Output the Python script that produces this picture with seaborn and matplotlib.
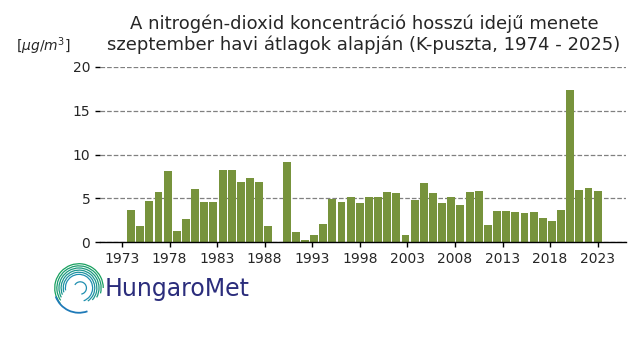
"""NO2 long-term September means, K-puszta."""

import matplotlib

matplotlib.use("Agg")

import matplotlib.pyplot as plt
import numpy as np
import pandas as pd
import seaborn as sns
from matplotlib.patches import Arc

years = list(range(1974, 2026))
no2 = [
    3.66, 1.83, 4.69, 5.73, 8.13, 1.26, 2.63, 6.07, 4.58, 4.58,
    8.24, 8.24, 6.87, 7.33, 6.87, 1.83, np.nan, 9.16, 1.15, 0.23,
    0.80, 2.06, 4.92, 4.58, 5.15, 4.47, 5.15, 5.15, 5.73, 5.61,
    0.80, 4.81, 6.76, 5.61, 4.47, 5.15, 4.24, 5.73, 5.84, 1.95,
    3.55, 3.55, 3.44, 3.32, 3.44, 2.75, 2.40, 3.66, 17.40, 5.95,
    6.18, 5.84,
]
tick_labels = list(range(1973, 2024, 5))

data = pd.DataFrame({"Year": years, "NO2": no2})

sns.set_style("ticks")
plt.rcParams["font.family"] = ["DejaVu Sans"]

fig = plt.figure(figsize=(6.4, 3.6), dpi=100)
ax = fig.add_axes([100 / 640, 1 - 242 / 360, 526 / 640, 175 / 360])

sns.barplot(data=data, x="Year", y="NO2", color="#77933c", saturation=1,
            width=0.86, linewidth=0, ax=ax)

ax.set_xticks(np.linspace(-1, 51, 11))
ax.set_xticklabels(tick_labels, fontsize=10)
ax.set_xlim(-3.4, 54.1)
ax.set_ylim(0, 20)
ax.set_yticks([0, 5, 10, 15, 20])
ax.tick_params(axis="y", labelsize=10, length=3.5, width=1, color="black")
ax.tick_params(axis="x", length=3.5, width=1, color="black")
ax.set_xlabel("")
ax.set_ylabel("")
ax.yaxis.grid(True, linestyle="--", color="gray", linewidth=0.9)
ax.set_axisbelow(True)
for side in ["left", "top", "right"]:
    ax.spines[side].set_visible(False)
ax.spines["bottom"].set_color("black")
ax.spines["bottom"].set_linewidth(1)

fig.text(364 / 640, 1 - 34 / 360,
         "A nitrogén-dioxid koncentráció hosszú idejű menete\n"
         "szeptember havi átlagok alapján (K-puszta, 1974 - 2025)",
         ha="center", va="center", fontsize=13, linespacing=1.15)
fig.text(43 / 640, 1 - 46 / 360, r"[$\mu g/m^3$]", ha="center", va="center",
         fontsize=10)

# logo
lax = fig.add_axes([53 / 640, 1 - 314 / 360, 52 / 640, 52 / 360])
lax.set_xlim(-1.05, 1.05)
lax.set_ylim(-1.05, 1.05)
lax.set_aspect("equal")
lax.axis("off")
radii = np.linspace(0.55, 0.98, 6)
colors = sns.blend_palette(["#1f8fb0", "#18a05e"], len(radii))
for i, (r, c) in enumerate(zip(radii, colors)):
    lax.add_patch(Arc((0, 0), 2 * r, 2 * r, theta1=-70 + i * 14,
                      theta2=190 + i * 6, color=c, lw=0.9))
lax.add_patch(Arc((0.05, 0), 0.5, 0.5, theta1=-80, theta2=150,
                  color="#1f8fb0", lw=0.9))
lax.add_patch(Arc((0, 0), 2.0, 2.0, theta1=200, theta2=290,
                  color="#1f7ab8", lw=1.3))

fig.text(105 / 640, 1 - 289 / 360, "HungaroMet", ha="left", va="center",
         fontsize=17, color="#2b2d7c")

plt.savefig("out.png", dpi=100)
plt.close()
